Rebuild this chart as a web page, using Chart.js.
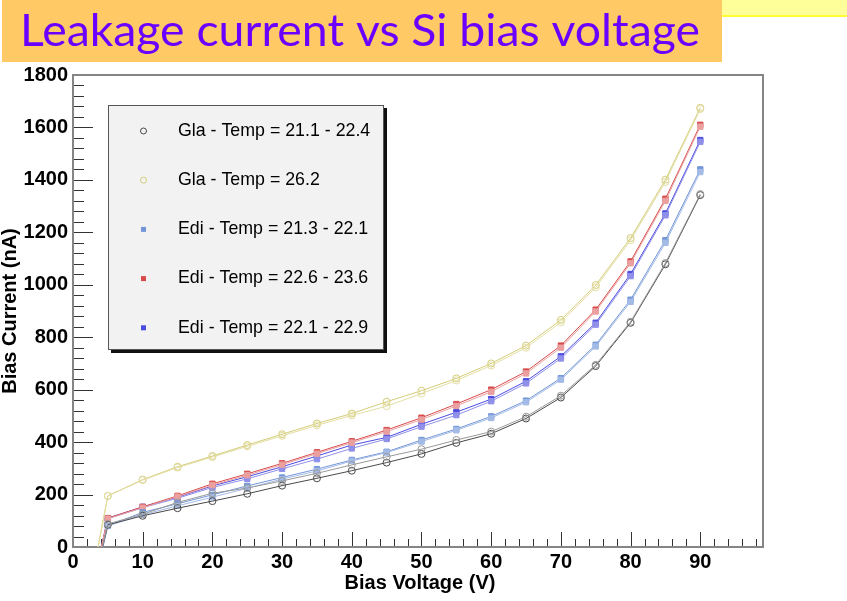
<!DOCTYPE html>
<html>
<head>
<meta charset="utf-8">
<script src="https://cdn.jsdelivr.net/npm/chart.js"></script>
<style>
html, body { margin: 0; padding: 0; background: #fff; }
#wrap { position: relative; width: 847px; height: 601px; }
</style>
</head>
<body>
<div id="wrap"><canvas id="chart" width="847" height="601"></canvas></div>
<script>
// Messpunkte (Spannung in V) - erster Punkt liegt unterhalb der Achse und wird abgeschnitten
const spannung = [0, 5, 10, 15, 20, 25, 30, 35, 40, 45, 50, 55, 60, 65, 70, 75, 80, 85, 90];

// Gla - Temp = 21.1 - 22.4 (zwei Durchläufe)
const glaKaltA = [-480, 88, 125, 170, 205, 225, 252, 281, 313, 344, 373, 408, 440, 497, 577, 695, 859, 1083, 1346];
const glaKaltB = [-480, 85, 119, 148, 175, 203, 234, 262, 291, 322, 355, 397, 432, 490, 570, 690, 855, 1078, 1342];
// Gla - Temp = 26.2
const glaWarmA = [-500, 195, 257, 306, 347, 389, 430, 471, 509, 554, 596, 643, 700, 768, 866, 999, 1178, 1401, 1675];
const glaWarmB = [-500, 195, 255, 303, 343, 384, 424, 464, 502, 537, 585, 635, 692, 760, 857, 990, 1170, 1392, 1670];
// Edi - Temp = 21.3 - 22.1
const edi1A = [-480, 81, 132, 165, 199, 233, 265, 297, 332, 363, 408, 450, 498, 558, 644, 771, 943, 1170, 1440];
const edi1B = [-480, 80, 123, 157, 190, 224, 259, 290, 328, 360, 402, 445, 492, 552, 638, 765, 935, 1160, 1430];
// Edi - Temp = 22.6 - 23.6
const edi2A = [-480, 110, 153, 195, 241, 279, 319, 361, 403, 446, 493, 545, 600, 669, 768, 905, 1089, 1328, 1610];
const edi2B = [-480, 108, 150, 192, 236, 274, 314, 356, 398, 440, 486, 538, 592, 662, 760, 898, 1082, 1320, 1603];
// Edi - Temp = 22.1 - 22.9
const edi3A = [-480, 110, 153, 190, 233, 268, 306, 347, 389, 418, 468, 514, 564, 632, 727, 855, 1041, 1272, 1552];
const edi3B = [-480, 108, 150, 186, 227, 260, 298, 335, 376, 412, 459, 503, 556, 624, 719, 848, 1033, 1265, 1545];

const serienNamen = [
    "Gla - Temp = 21.1 - 22.4",
    "Gla - Temp = 26.2",
    "Edi - Temp = 21.3 - 22.1",
    "Edi - Temp = 22.6 - 23.6",
    "Edi - Temp = 22.1 - 22.9"
];

const xTicks = [0, 10, 20, 30, 40, 50, 60, 70, 80, 90];
const yTicks = [0, 200, 400, 600, 800, 1000, 1200, 1400, 1600, 1800];

const titel = "Leakage current vs Si bias voltage";
const xTitel = "Bias Voltage (V)";
const yTitel = "Bias Current (nA)";

function punkte(werte) {
    return spannung.map((x, i) => ({ x: x, y: werte[i] }));
}

function serie(werte, farbe, offen, legende, name) {
    return {
        label: name || "",
        legende: legende,
        offen: offen,
        data: punkte(werte),
        showLine: true,
        borderColor: farbe,
        borderWidth: 1,
        pointStyle: offen ? 'circle' : 'rect',
        pointRadius: offen ? 3.5 : 3.8,
        pointBorderWidth: 1,
        pointBorderColor: farbe,
        pointBackgroundColor: offen ? 'rgba(0,0,0,0)' : farbe
    };
}

const datensaetze = [
    serie(glaKaltA, '#9a9a9a', true, false),
    serie(glaKaltB, '#4a4a4a', true, true, serienNamen[0]),
    serie(glaWarmB, '#e4dea4', true, false),
    serie(glaWarmA, '#d4cd78', true, true, serienNamen[1]),
    serie(edi1B, '#a3bbe6', false, false),
    serie(edi1A, '#7296d8', false, true, serienNamen[2]),
    serie(edi2B, '#eba0a0', false, false),
    serie(edi2A, '#d94a4a', false, true, serienNamen[3]),
    serie(edi3B, '#9090ea', false, false),
    serie(edi3A, '#4b4be0', false, true, serienNamen[4])
];

// Titelbalken wie auf der Folie
const titelPlugin = {
    id: 'titelbalken',
    beforeDraw(chart) {
        const ctx = chart.ctx;
        ctx.save();
        ctx.fillStyle = '#ffffff';
        ctx.fillRect(0, 0, chart.width, chart.height);
        ctx.fillStyle = '#ffff99';
        ctx.fillRect(722, 0, 125, 15);
        ctx.fillStyle = '#ffff33';
        ctx.fillRect(722, 15, 125, 2);
        ctx.fillStyle = '#ffc966';
        ctx.fillRect(2, 0, 720, 62);
        ctx.fillStyle = '#6a00ff';
        ctx.font = '44px "Comic Sans MS", Lato, sans-serif';
        ctx.textBaseline = 'alphabetic';
        const w = ctx.measureText(titel).width;
        ctx.translate(20, 46);
        ctx.scale(680 / w, 1);
        ctx.fillText(titel, 0, 0);
        ctx.restore();
    }
};

// Rahmen und Striche im ROOT-Stil
const rahmenPlugin = {
    id: 'rahmen',
    beforeDatasetsDraw(chart) {
        const ctx = chart.ctx;
        const a = chart.chartArea;
        const sx = chart.scales.x;
        const sy = chart.scales.y;
        ctx.save();
        ctx.strokeStyle = '#333';
        ctx.lineWidth = 1;
        ctx.beginPath();
        for (let v = 0; v <= 1800; v += 40) {
            const y = Math.round(sy.getPixelForValue(v)) + 0.5;
            const len = v % 200 === 0 ? 20 : 11;
            ctx.moveTo(a.left, y);
            ctx.lineTo(a.left + len, y);
        }
        for (let v = 0; v <= 98; v += 2) {
            const x = Math.round(sx.getPixelForValue(v)) + 0.5;
            const len = v % 10 === 0 ? 15 : 8;
            ctx.moveTo(x, a.bottom);
            ctx.lineTo(x, a.bottom - len);
        }
        ctx.stroke();
        ctx.strokeStyle = '#858585';
        ctx.lineWidth = 2;
        ctx.strokeRect(a.left, a.top, a.right - a.left, a.bottom - a.top);

        ctx.fillStyle = '#000';
        ctx.font = 'bold 20px "Liberation Sans", Arial, sans-serif';
        ctx.textAlign = 'center';
        ctx.textBaseline = 'middle';
        ctx.fillText(xTitel, 420, 583);
        ctx.translate(10, 311);
        ctx.rotate(-Math.PI / 2);
        ctx.fillText(yTitel, 0, 0);
        ctx.restore();
    },
    afterDatasetsDraw(chart) {
        const ctx = chart.ctx;
        ctx.save();
        // Legendenkasten mit Schatten
        ctx.fillStyle = '#111';
        ctx.fillRect(111, 108, 276, 245);
        ctx.fillStyle = '#f2f2f2';
        ctx.fillRect(108, 105, 276, 245);
        ctx.strokeStyle = '#555';
        ctx.lineWidth = 1;
        ctx.strokeRect(108.5, 105.5, 275, 244);
        ctx.font = '17.8px "Liberation Sans", Arial, sans-serif';
        ctx.textBaseline = 'middle';
        ctx.textAlign = 'left';
        const eintraege = chart.data.datasets.filter(d => d.legende);
        eintraege.forEach((d, i) => {
            const y = 131 + i * 49.2;
            ctx.strokeStyle = d.borderColor;
            ctx.fillStyle = d.borderColor;
            if (d.offen) {
                ctx.beginPath();
                ctx.arc(143.5, y, 3, 0, Math.PI * 2);
                ctx.stroke();
            } else {
                ctx.fillRect(141, y - 2.5, 5, 5);
            }
            ctx.fillStyle = '#000';
            ctx.fillText(d.label, 178, y);
        });
        ctx.restore();
    }
};

const tickSchrift = { family: '"Liberation Sans", Arial, sans-serif', size: 20, weight: 'bold' };

new Chart(document.getElementById('chart'), {
    type: 'scatter',
    data: { datasets: datensaetze },
    options: {
        responsive: false,
        animation: false,
        layout: { padding: { top: 75, right: 84, left: 0, bottom: 0 } },
        plugins: {
            legend: { display: false },
            tooltip: { enabled: false },
            title: { display: false }
        },
        scales: {
            x: {
                type: 'linear',
                min: 0,
                max: 99,
                afterFit(scale) { scale.height = 54; },
                afterBuildTicks(scale) { scale.ticks = xTicks.map(v => ({ value: v })); },
                grid: { display: false, drawTicks: false },
                border: { display: false },
                ticks: {
                    padding: 3,
                    color: '#000',
                    maxRotation: 0,
                    autoSkip: false,
                    callback: v => String(v),
                    font: tickSchrift
                }
            },
            y: {
                type: 'linear',
                min: 0,
                max: 1800,
                afterFit(scale) { scale.width = 73; },
                afterBuildTicks(scale) { scale.ticks = yTicks.map(v => ({ value: v })); },
                grid: { display: false, drawTicks: false },
                border: { display: false },
                ticks: {
                    padding: 5,
                    color: '#000',
                    autoSkip: false,
                    callback: v => String(v),
                    font: tickSchrift
                }
            }
        }
    },
    plugins: [titelPlugin, rahmenPlugin]
});
</script>
</body>
</html>
